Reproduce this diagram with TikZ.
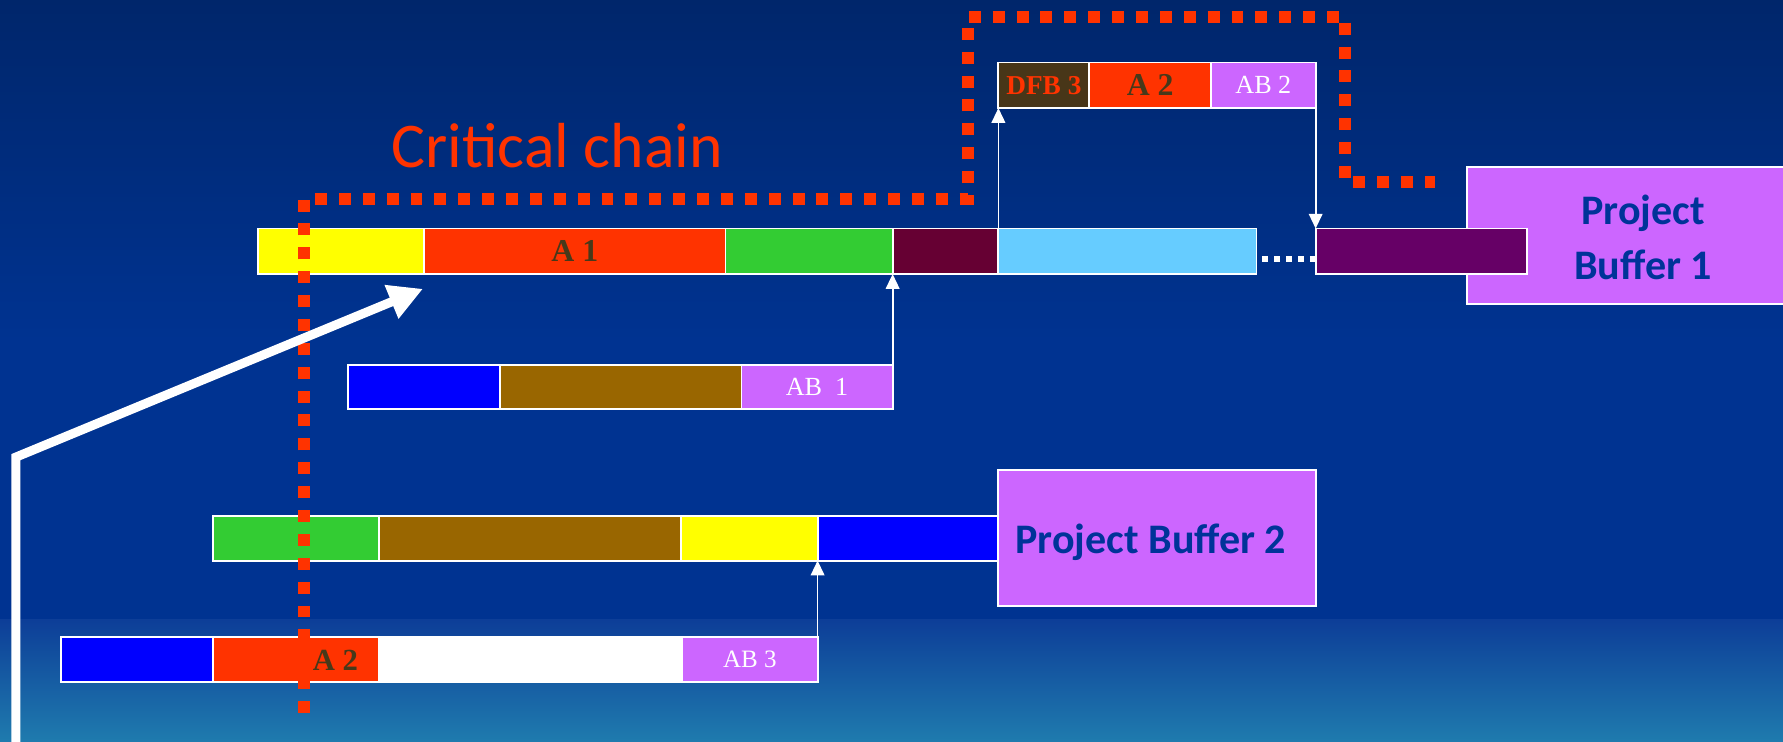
\documentclass[tikz,border=0pt]{standalone}
\usepackage{fontspec}
\usepackage{graphicx}
\setmainfont{Liberation Serif}
\newfontfamily\calib{Carlito}
\usetikzlibrary{arrows.meta,calc}
\definecolor{bgtop}{HTML}{00266B}
\definecolor{bgmid}{HTML}{003391}
\definecolor{bglow}{HTML}{0D3E98}
\definecolor{bgbot}{HTML}{1F7BAE}
\definecolor{cyel}{HTML}{FFFF00}
\definecolor{cred}{HTML}{FF3300}
\definecolor{cgreen}{HTML}{33CC33}
\definecolor{cmaroon}{HTML}{660033}
\definecolor{clblue}{HTML}{66CCFF}
\definecolor{cpurple}{HTML}{660066}
\definecolor{cblue}{HTML}{0000FF}
\definecolor{cbrown}{HTML}{996600}
\definecolor{clav}{HTML}{CC66FF}
\definecolor{cdfb}{HTML}{483618}
\definecolor{labeldark}{HTML}{47391A}
\definecolor{pbtext}{HTML}{003399}
\newcommand\cellnode[7]{%
  \node[cell, fill=#6, minimum width={#4-#2}, minimum height={#5-#3}] (#1) at (#2,#3) {#7};}
\begin{document}
\begin{tikzpicture}[x=1pt,y=-1pt,
  cell/.style={draw=white, line width=1.6pt, outer sep=0pt, inner sep=0pt, anchor=north west},
  pbbox/.style={draw=white, line width=1.6pt, fill=clav, outer sep=0pt, anchor=north west},
  pblbl/.style={font=\calib\bfseries\fontsize{37pt}{48pt}\selectfont, text=pbtext, align=center},
  critline/.style={draw=cred, line width=10.5pt, dash pattern=on 10.5pt off 10.5pt},
  thinarrow/.style={draw=white, line width=1.5pt, -{Triangle[length=13pt,width=12pt]}},
  bigarrow/.style={draw=white, line width=8pt, -{Triangle[length=30pt,width=30pt]}}
]
\useasboundingbox (0,0) rectangle (1568,652);
\clip (0,0) rectangle (1568,652);
% background
\fill[bgmid] (0,0) rectangle (1568,652);
\shade[top color=bgtop, bottom color=bgmid] (0,0) rectangle (1568,300);
\shade[top color=bglow, bottom color=bgbot] (0,545) rectangle (1568,652);

% top box
\cellnode{dfb}{878}{55}{958}{95}{cdfb}{\fontsize{24pt}{26pt}\selectfont\bfseries\color{cred}DFB 3}
\cellnode{atwo}{958}{55}{1065}{95}{cred}{\fontsize{28pt}{30pt}\selectfont\bfseries\color{labeldark}A 2}
\cellnode{abtwo}{1065}{55}{1157}{95}{clav}{\fontsize{23pt}{25pt}\selectfont\color{white}AB 2}

% project buffer 1
\node[pbbox, minimum width=290pt, minimum height=120pt] (pbone) at (1290,147) {};
\node[pblbl] (pbonetxt) at (1445,209) {Project\\Buffer 1};

% main row
\cellnode{yone}{227}{201}{373}{241}{cyel}{}
\cellnode{aone}{373}{201}{638}{241}{cred}{\fontsize{28pt}{30pt}\selectfont\bfseries\color{labeldark}A 1}
\cellnode{gone}{638}{201}{785}{241}{cgreen}{}
\cellnode{mone}{785}{201}{878}{241}{cmaroon}{}
\cellnode{lbone}{878}{201}{1105}{241}{clblue}{}
\cellnode{ppone}{1157}{201}{1343}{241}{cpurple}{}

% row 2
\cellnode{btwo}{306}{321}{440}{360}{cblue}{}
\cellnode{brtwo}{440}{321}{652}{360}{cbrown}{}
\cellnode{abone}{652}{321}{785}{360}{clav}{\fontsize{23pt}{25pt}\selectfont\color{white}AB\hspace{0.5em}1}

% row 3
\cellnode{gthree}{187}{454}{333}{493}{cgreen}{}
\cellnode{brthree}{333}{454}{599}{493}{cbrown}{}
\cellnode{ythree}{599}{454}{719}{493}{cyel}{}
\cellnode{bthree}{719}{454}{878}{493}{cblue}{}
\node[pbbox, minimum width=279pt, minimum height=120pt] (pbtwo) at (878,413) {};
\node[pblbl] (pbtwotxt) at (1012,477) {Project Buffer 2};

% row 4
\cellnode{bfour}{54}{560}{187}{600}{cblue}{}
\cellnode{afour}{187}{560}{333}{600}{cred}{}
\cellnode{wfour}{333}{560}{600}{600}{white}{}
\cellnode{abthree}{600}{560}{719}{600}{clav}{\fontsize{22pt}{24pt}\selectfont\color{white}AB 3}

% connectors
\draw[thinarrow] (lbone.north west) -- (dfb.south west);
\draw[thinarrow] (abtwo.south east) -- (ppone.north west);
\draw[thinarrow] ($(abone.north east)+(0,12)$) -- (mone.south west);
\draw[thinarrow] ($(abthree.north east)+(0,15)$) -- (bthree.south west);
\draw[white, line width=5pt, dash pattern=on 5pt off 5.5pt] ($(lbone.east)+(5,7)$) -- ($(ppone.west)+(0,7)$);

% critical chain
\coordinate (cc0) at (267,627);
\coordinate (cc1) at (267,175);
\coordinate (cc2) at (851,175);
\coordinate (cc3) at (851,15);
\coordinate (cc4) at (1183,15);
\coordinate (cc5) at (1183,160);
\coordinate (cc6) at (1262,160);
\draw[critline] (cc0) -- (cc1) -- (cc2) -- (cc3) -- (cc4) -- (cc5) -- (cc6);
\node[font=\calib\fontsize{56pt}{60pt}\selectfont, text=cred] (cctxt) at (490,128) {Critical chain};

% label A 2 in row 4 (drawn over the chain)
\node[font=\fontsize{27pt}{29pt}\selectfont\bfseries, text=labeldark] (afourtxt) at (295,581) {A 2};

% big arrow
\coordinate (ba0) at (14,660);
\coordinate (ba1) at (14,402);
\coordinate (ba2) at (372,254);
\draw[bigarrow] (ba0) -- (ba1) -- (ba2);
\end{tikzpicture}
\end{document}
